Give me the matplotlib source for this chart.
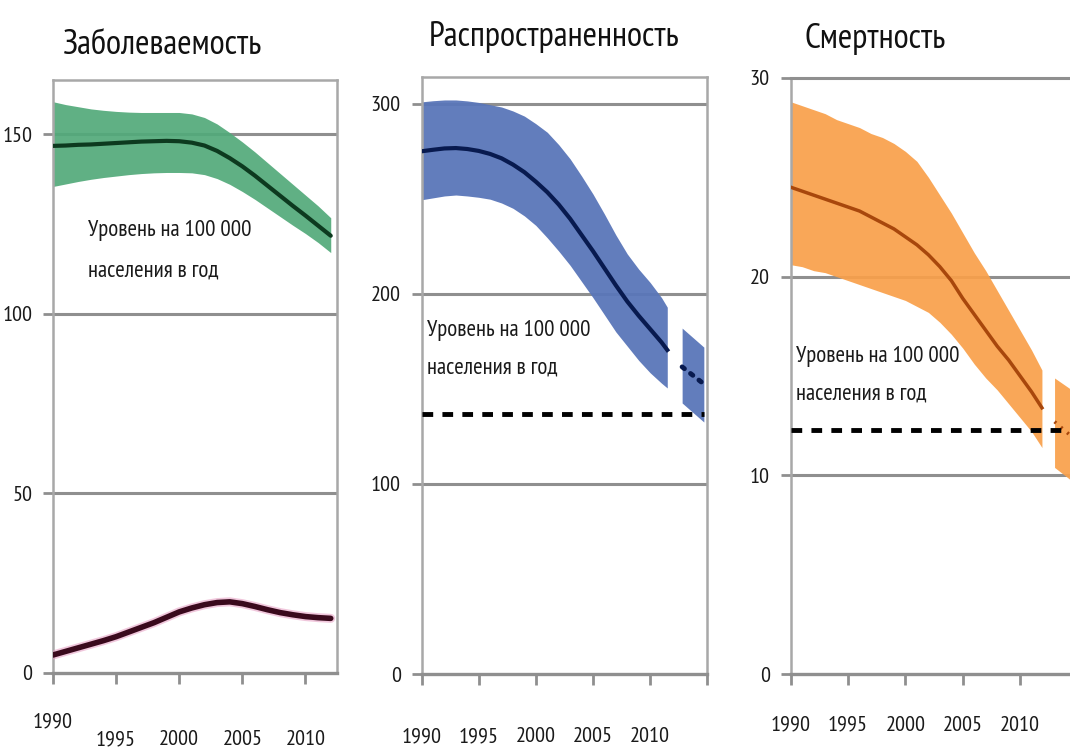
import matplotlib
matplotlib.use("Agg")
import matplotlib.pyplot as plt
import matplotlib.transforms as mtransforms

plt.rcParams.update({
    'font.family': ['PT Sans Narrow', 'Roboto Condensed', 'DejaVu Sans'],
})

# --- incidence (green band + HIV-positive line) ---
inc_years = list(range(1990, 2013))
inc_mid = [146.7, 146.8, 147.0, 147.1, 147.3, 147.5, 147.7, 147.9, 148.0, 148.1, 148.0, 147.6,
           146.8, 145.3, 143.3, 141.0, 138.4, 135.6, 132.8, 130.0, 127.3, 124.5, 121.7]
inc_hi = [159.0, 158.2, 157.6, 157.0, 156.6, 156.3, 156.1, 156.0, 156.0, 156.0, 156.0, 155.6,
          154.6, 152.8, 150.4, 147.8, 145.0, 142.0, 139.0, 136.0, 133.0, 130.0, 126.7]
inc_lo = [135.4, 136.1, 136.8, 137.4, 137.9, 138.3, 138.7, 139.0, 139.2, 139.3, 139.3, 139.2,
          138.7, 137.6, 136.0, 134.0, 131.8, 129.4, 127.0, 124.6, 122.3, 119.8, 117.0]
hiv_mid = [5.0, 6.0, 7.0, 8.0, 9.0, 10.1, 11.4, 12.7, 14.0, 15.5, 17.0, 18.1,
           19.0, 19.6, 19.8, 19.3, 18.5, 17.6, 16.8, 16.2, 15.7, 15.4, 15.2]

# --- prevalence (blue), estimate + projection ---
prev_years = list(range(1990, 2012)) + [2011.5]
prev_mid = [275.0, 275.8, 276.5, 276.7, 276.2, 275.2, 273.6, 271.3, 268.0, 264.0, 259.0, 253.5,
            247.0, 239.5, 231.0, 222.5, 213.5, 204.5, 196.0, 188.5, 181.5, 174.5, 170.5]
prev_hi = [301.0, 301.6, 302.0, 302.0, 301.5, 300.7, 299.5, 298.3, 296.2, 293.5, 289.5, 285.0,
           278.5, 271.0, 262.0, 252.5, 242.0, 231.0, 221.0, 213.0, 206.0, 198.0, 193.0]
prev_lo = [249.5, 250.5, 251.5, 252.0, 251.5, 250.8, 249.8, 247.8, 245.0, 241.0, 236.0, 229.5,
           222.5, 215.0, 206.5, 198.0, 189.0, 180.0, 172.5, 165.0, 158.5, 153.0, 150.5]
prev_proj_years = [2012.8, 2014.7]
prev_proj_mid = [161.6, 152.6]
prev_proj_hi = [182.0, 172.0]
prev_proj_lo = [142.6, 132.6]
prev_target = 137

# --- mortality (orange), estimate + projection ---
mort_years = list(range(1990, 2012)) + [2011.9]
mort_mid = [24.5, 24.3, 24.1, 23.9, 23.7, 23.5, 23.3, 23.0, 22.7, 22.4, 22.0, 21.6,
            21.1, 20.5, 19.8, 18.9, 18.1, 17.3, 16.5, 15.8, 15.0, 14.2, 13.4]
mort_hi = [28.8, 28.6, 28.4, 28.2, 27.9, 27.7, 27.5, 27.2, 27.0, 26.7, 26.3, 25.8,
           25.0, 24.1, 23.2, 22.2, 21.2, 20.3, 19.3, 18.3, 17.3, 16.3, 15.3]
mort_lo = [20.6, 20.5, 20.3, 20.2, 20.0, 19.8, 19.6, 19.4, 19.2, 19.0, 18.8, 18.5,
           18.2, 17.7, 17.1, 16.4, 15.6, 14.9, 14.3, 13.6, 12.9, 12.2, 11.4]
mort_proj_years = [2013.0, 2015.0]
mort_proj_mid = [12.7, 11.7]
mort_proj_hi = [14.9, 14.1]
mort_proj_lo = [10.4, 9.5]
mort_target = 12.3

year_ticks = [1990, 1995, 2000, 2005, 2010]
note = "Уровень на 100 000\nнаселения в год"

GRID = '#8f8f8f'
SPINE = '#a8a8a8'
INK = '#1a1a1a'

fig = plt.figure(figsize=(10.7, 7.49), dpi=100)


def frame(ax, xlim, ylim, yticks, grid_ys, xpad, xticks):
    ax.set_xlim(*xlim)
    ax.set_ylim(*ylim)
    for y in grid_ys:
        ax.axhline(y, color=GRID, lw=2.2, zorder=1)
    for side in ['left', 'right', 'top']:
        ax.spines[side].set_color(SPINE)
        ax.spines[side].set_linewidth(1.8)
    ax.spines['bottom'].set_color(GRID)
    ax.spines['bottom'].set_linewidth(2.4)
    ax.set_yticks(yticks)
    ax.set_yticklabels([str(v) for v in yticks])
    ax.set_xticks(xticks)
    ax.set_xticklabels([str(v) if v in year_ticks else '' for v in xticks])
    ax.tick_params(axis='y', length=7, width=2, color=GRID, pad=8,
                   labelsize=16, labelcolor=INK)
    ax.tick_params(axis='x', length=8, width=2, color=GRID, pad=xpad,
                   labelsize=16, labelcolor=INK)


# Panel 1: incidence
ax1 = fig.add_axes([0.0495, 0.1015, 0.2655, 0.7915])
frame(ax1, (1990, 2012.5), (0, 165), [0, 50, 100, 150], [50, 100, 150], 33, year_ticks)
ax1.fill_between(inc_years, inc_lo, inc_hi, color='#52aa7a', lw=0, alpha=0.92, zorder=2)
ax1.plot(inc_years, inc_mid, color='#0d3a1f', lw=3, zorder=4, solid_capstyle='round')
ax1.plot(inc_years, hiv_mid, color='#e59ac0', lw=6.5, alpha=0.55, zorder=3, solid_capstyle='round')
ax1.plot(inc_years, hiv_mid, color='#3a0a1d', lw=4, zorder=4, solid_capstyle='round')
ax1.text(1992.8, 126.0, note, fontsize=16.5, va='top', ha='left', linespacing=2.2, color=INK)
# the first year label sits a little higher in this panel
lbl = ax1.get_xticklabels()[0]
lbl.set_transform(lbl.get_transform() + mtransforms.ScaledTranslation(0, 0.18, fig.dpi_scale_trans))

# Panel 2: prevalence
ax2 = fig.add_axes([0.394, 0.100, 0.267, 0.797])
frame(ax2, (1990, 2015), (0, 314), [0, 100, 200, 300], [100, 200, 300], 30,
      [1990, 1995, 2000, 2005, 2010, 2015])
ax2.fill_between(prev_years, prev_lo, prev_hi, color='#5a76b9', lw=0, alpha=0.95, zorder=2)
ax2.plot(prev_years, prev_mid, color='#081a4f', lw=3, zorder=4)
ax2.fill_between(prev_proj_years, prev_proj_lo, prev_proj_hi, color='#5a76b9', lw=0, alpha=0.95, zorder=2)
ax2.plot(prev_proj_years, prev_proj_mid, color='#081a4f', lw=3.5, ls=(0, (0.6, 1.6)),
         dash_capstyle='round', zorder=4)
ax2.plot([1990, 2014.7], [prev_target, prev_target], color='black', lw=3.5,
         ls=(0, (2.2, 1.9)), zorder=5)
ax2.text(1990.5, 186, note, fontsize=16.5, va='top', ha='left', linespacing=2.0, color=INK)

# Panel 3: mortality (runs past the right edge of the figure)
ax3 = fig.add_axes([0.739, 0.100, 0.268, 0.796])
frame(ax3, (1990, 2015), (0, 30), [0, 10, 20, 30], [10, 20], 22,
      [1990, 1995, 2000, 2005, 2010])
ax3.spines['top'].set_color(GRID)
ax3.spines['top'].set_linewidth(2.2)
ax3.fill_between(mort_years, mort_lo, mort_hi, color='#f9a04a', lw=0, alpha=0.92, zorder=2)
ax3.plot(mort_years, mort_mid, color='#a8470c', lw=2.5, zorder=4)
ax3.fill_between(mort_proj_years, mort_proj_lo, mort_proj_hi, color='#f9a04a', lw=0, alpha=0.92, zorder=2)
ax3.plot(mort_proj_years, mort_proj_mid, color='#a8470c', lw=2.5, ls=(0, (0.6, 1.8)), zorder=4)
ax3.plot([1990, 2015], [mort_target, mort_target], color='black', lw=3.5,
         ls=(0, (2.2, 1.9)), zorder=5)
ax3.text(1990.5, 16.5, note, fontsize=16.5, va='top', ha='left', linespacing=2.05, color=INK)

# Panel titles
fig.text(0.152, 0.94, "Заболеваемость", fontsize=25, ha='center', va='center', color='#111111')
fig.text(0.518, 0.951, "Распространенность", fontsize=25, ha='center', va='center', color='#111111')
fig.text(0.818, 0.948, "Смертность", fontsize=25, ha='center', va='center', color='#111111')

fig.savefig('out.png', dpi=100)
